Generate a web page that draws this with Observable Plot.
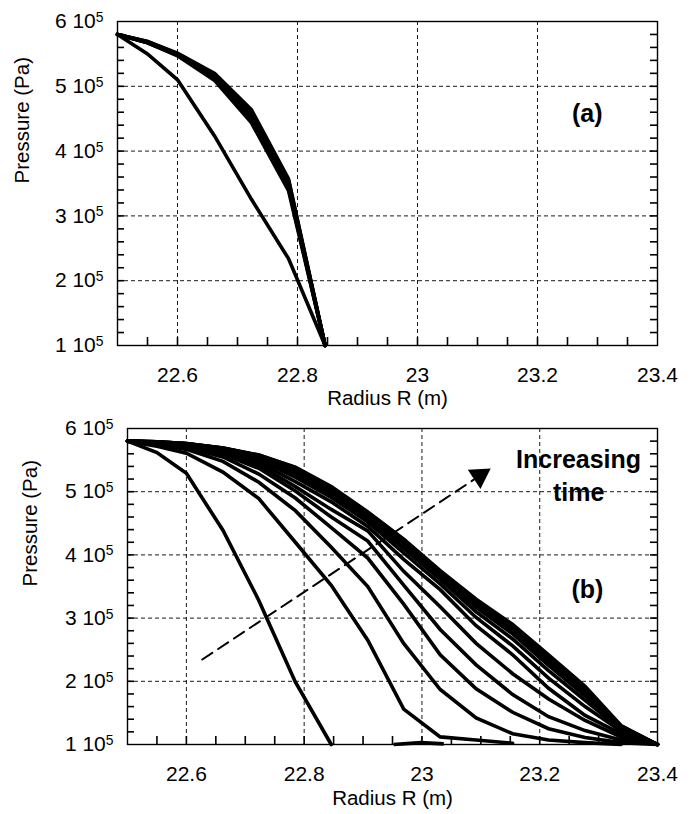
<!DOCTYPE html>
<html><head><meta charset="utf-8">
<script src="https://cdn.jsdelivr.net/npm/d3@7"></script>
<script src="https://cdn.jsdelivr.net/npm/@observablehq/plot@0.6"></script>
<style>
html,body{margin:0;padding:0;background:#fff;}
#chart svg{display:block;}
</style></head><body><div id="chart"></div>
<script>
// Radial nodes (m) shared by all curves
const radiusNodes = [22.5, 22.55, 22.6, 22.662, 22.723, 22.785, 22.846, 22.908, 22.969, 23.031, 23.092, 23.154, 23.215, 23.277, 23.338, 23.4];

// Panel (a): pressure in units of 10^5 Pa
const a_curve1 = [5.8, 5.50, 5.10, 4.23, 3.26, 2.34, 1.0];
const a_curve2 = [5.8, 5.69, 5.51, 5.20, 4.64, 3.57, 1.0];
const a_curve3 = [5.8, 5.69, 5.50, 5.18, 4.61, 3.55, 1.0];
const a_curve4 = [5.8, 5.68, 5.49, 5.17, 4.58, 3.52, 1.0];
const a_curve5 = [5.8, 5.68, 5.49, 5.15, 4.55, 3.49, 1.0];
const a_curve6 = [5.8, 5.68, 5.48, 5.13, 4.51, 3.46, 1.0];
const a_curve7 = [5.8, 5.67, 5.48, 5.11, 4.48, 3.43, 1.0];
const a_curve8 = [5.8, 5.67, 5.47, 5.09, 4.44, 3.39, 1.0];

// Panel (b): pressure in units of 10^5 Pa, successive times
const b_t1  = [5.8, 5.62, 5.29, 4.39, 3.28, 1.99, 1.0];
const b_t2  = [5.8, 5.72, 5.61, 5.31, 4.89, 4.20, 3.52, 2.65, 1.56, 1.12, 1.07, 1.02];
const b_t3  = [5.8, 5.75, 5.67, 5.48, 5.15, 4.70, 4.12, 3.50, 2.60, 1.87, 1.42, 1.17, 1.07, 1.03, 1.0];
const b_t4  = [5.8, 5.76, 5.70, 5.55, 5.28, 4.90, 4.43, 3.95, 3.22, 2.42, 1.88, 1.51, 1.25, 1.11, 1.03, 1.0];
const b_t5  = [5.8, 5.77, 5.72, 5.59, 5.37, 5.01, 4.60, 4.22, 3.52, 2.82, 2.26, 1.79, 1.44, 1.22, 1.07, 1.0];
const b_t6  = [5.8, 5.77, 5.73, 5.61, 5.42, 5.08, 4.72, 4.38, 3.74, 3.18, 2.60, 2.12, 1.72, 1.38, 1.12, 1.0];
const b_t7  = [5.8, 5.77, 5.74, 5.64, 5.46, 5.16, 4.84, 4.45, 3.93, 3.45, 2.88, 2.42, 1.89, 1.46, 1.17, 1.0];
const b_t8  = [5.8, 5.78, 5.75, 5.66, 5.50, 5.23, 4.91, 4.52, 4.03, 3.54, 3.01, 2.56, 2.05, 1.60, 1.21, 1.0];
const b_t9  = [5.8, 5.78, 5.75, 5.67, 5.52, 5.28, 4.96, 4.57, 4.10, 3.61, 3.10, 2.67, 2.17, 1.70, 1.24, 1.0];
const b_t10 = [5.8, 5.78, 5.75, 5.67, 5.54, 5.32, 5.00, 4.61, 4.15, 3.65, 3.17, 2.75, 2.25, 1.77, 1.26, 1.0];
const b_t11 = [5.8, 5.79, 5.76, 5.68, 5.56, 5.34, 5.03, 4.63, 4.19, 3.69, 3.22, 2.80, 2.31, 1.83, 1.27, 1.0];
const b_t12 = [5.8, 5.79, 5.76, 5.69, 5.57, 5.37, 5.06, 4.66, 4.22, 3.72, 3.26, 2.85, 2.37, 1.87, 1.29, 1.0];
const b_t13 = [5.8, 5.79, 5.76, 5.69, 5.58, 5.38, 5.07, 4.67, 4.24, 3.74, 3.28, 2.88, 2.40, 1.90, 1.29, 1.0];
const b_t14 = [5.8, 5.79, 5.76, 5.69, 5.58, 5.39, 5.08, 4.68, 4.25, 3.75, 3.30, 2.90, 2.42, 1.92, 1.30, 1.0];
const b_tailR = [22.952, 22.998, 23.037];
const b_tailP = [1.0, 1.03, 1.01];

// Annotation arrow (data coordinates)
const arrowR = [22.627, 23.088];
const arrowP = [2.345, 5.19];
const arrowHeadR = [23.098];
const arrowHeadP = [5.253];

// Axis ticks
const xLabels = [22.6, 22.8, 23, 23.2, 23.4];
const xGrid = [22.6, 22.8, 23, 23.2];
const xMinor = [22.55, 22.6, 22.65, 22.7, 22.75, 22.8, 22.85, 22.9, 22.95, 23, 23.05, 23.1, 23.15, 23.2, 23.25, 23.3, 23.35];
const yLabels = [1, 2, 3, 4, 5, 6];
const yGrid = [2, 3, 4, 5];
const yMinor = [1.2, 1.4, 1.6, 1.8, 2, 2.2, 2.4, 2.6, 2.8, 3, 3.2, 3.4, 3.6, 3.8, 4, 4.2, 4.4, 4.6, 4.8, 5, 5.2, 5.4, 5.6, 5.8];
const xMin = 22.5, xMax = 23.4, yMin = 1, yMax = 6;

const FONT = "'Liberation Sans', Arial, Helvetica, sans-serif";

function rows(list) {
  return list.flatMap((vals, k) => vals.map((p, i) => ({R: radiusNodes[i], P: p, curve: k})));
}

function panel(opts) {
  const {data, extraData, height, marginTop, marginBottom, marginLeft, yTitleDx, xTitleDy, annotations} = opts;
  const gridStyle = {stroke: "#000", strokeOpacity: 0.9, strokeWidth: 1, strokeDasharray: "4,3"};
  const tickStyle = {stroke: "black", strokeWidth: 1.6};
  const svg = Plot.plot({
    width: 695, height, marginTop, marginBottom, marginLeft, marginRight: 38,
    x: {domain: [xMin, xMax]},
    y: {domain: [yMin, yMax]},
    style: {fontFamily: FONT, fontSize: "21px", color: "black", background: "white", overflow: "visible"},
    marks: [
      Plot.gridX(xGrid, gridStyle),
      Plot.gridY(yGrid, gridStyle),
      Plot.line(data, {x: "R", y: "P", z: "curve", stroke: "black", strokeWidth: 3.6, strokeLinejoin: "miter", strokeMiterlimit: 4, strokeLinecap: "round"}),
      ...(extraData ? [Plot.line(extraData, {x: "R", y: "P", stroke: "black", strokeWidth: 3.6, strokeLinecap: "butt"})] : []),
      Plot.frame({stroke: "black", strokeWidth: 1.4}),
      // inward minor ticks drawn as short rules: bottom, left, right
      Plot.ruleX(xMinor, {x: d => d, y1: yMin, y2: yMin, insetTop: -8, ...tickStyle}),
      Plot.ruleY(yMinor, {y: d => d, x1: xMin, x2: xMin, insetRight: -7, ...tickStyle}),
      Plot.ruleY(yMinor, {y: d => d, x1: xMax, x2: xMax, insetLeft: -7, ...tickStyle}),
      Plot.axisX(xLabels, {anchor: "bottom", tickSize: 0, tickPadding: 22, tickFormat: d => String(d), label: null, fontSize: 21}),
      Plot.axisY(yLabels, {anchor: "left", tickSize: 0, tickPadding: 14, tickFormat: d => `${d} 10^5`, label: null, fontSize: 21}),
      Plot.text(["Pressure (Pa)"], {text: d => d, frameAnchor: "left", dx: yTitleDx, rotate: -90, fontSize: 20.5}),
      Plot.text(["Radius R (m)"], {text: d => d, frameAnchor: "bottom", dy: xTitleDy, fontSize: 20.5}),
      ...annotations
    ]
  });
  // superscript exponent in tick labels
  const ns = "http://www.w3.org/2000/svg";
  svg.querySelectorAll('g[aria-label="y-axis tick label"] text').forEach(t => {
    const s = t.textContent;
    if (!s.includes("^")) return;
    const [base, exp] = s.split("^");
    t.textContent = base;
    const ts = document.createElementNS(ns, "tspan");
    ts.setAttribute("dy", "-0.45em");
    ts.setAttribute("font-size", "0.66em");
    ts.textContent = exp;
    t.appendChild(ts);
  });
  return svg;
}

const dataA = rows([a_curve1, a_curve2, a_curve3, a_curve4, a_curve5, a_curve6, a_curve7, a_curve8]);
const dataB = rows([b_t1, b_t2, b_t3, b_t4, b_t5, b_t6, b_t7, b_t8, b_t9, b_t10, b_t11, b_t12, b_t13, b_t14]);
const tailB = b_tailR.map((r, i) => ({R: r, P: b_tailP[i]}));
const arrowLine = arrowR.map((r, i) => ({R: r, P: arrowP[i]}));
const arrowHead = arrowHeadR.map((r, i) => ({R: r, P: arrowHeadP[i]}));

const labelA = [{R: 23.283, P: 4.58, text: "(a)"}];
const labelB = [{R: 23.281, P: 3.44, text: "(b)"}];
const labelTime = [{R: 23.266, P: 5.28, text: "Increasing\ntime"}];

const svgA = panel({
  data: dataA, height: 410, marginTop: 21, marginBottom: 65, marginLeft: 117,
  yTitleDx: -95, xTitleDy: 59,
  annotations: [
    Plot.text(labelA, {x: "R", y: "P", text: "text", fontSize: 25, fontWeight: "bold"})
  ]
});

const svgB = panel({
  data: dataB, extraData: tailB, height: 404, marginTop: 18, marginBottom: 70, marginLeft: 127,
  yTitleDx: -97, xTitleDy: 60,
  annotations: [
    Plot.line(arrowLine, {x: "R", y: "P", stroke: "black", strokeWidth: 2, strokeDasharray: "12,7"}),
    Plot.dot(arrowHead, {x: "R", y: "P", symbol: "triangle", r: 8.5, fill: "black", stroke: "none", rotate: 56.4}),
    Plot.text(labelB, {x: "R", y: "P", text: "text", fontSize: 25, fontWeight: "bold"}),
    Plot.text(labelTime, {x: "R", y: "P", text: "text", fontSize: 25, fontWeight: "bold", lineHeight: 1.32})
  ]
});

const chart = document.getElementById("chart");
chart.appendChild(svgA);
chart.appendChild(svgB);
</script>
</body></html>
